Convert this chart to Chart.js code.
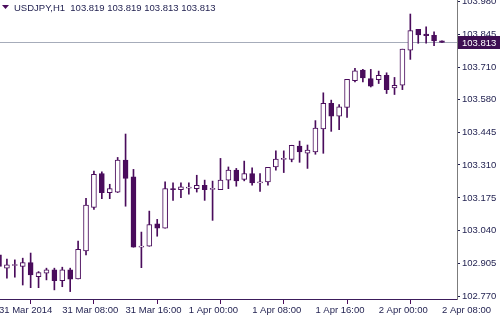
<!DOCTYPE html>
<html>
<head>
<meta charset="utf-8">
<script src="https://cdn.jsdelivr.net/npm/chart.js@4.4.0/dist/chart.umd.min.js"></script>
<style>
  html, body { margin: 0; padding: 0; background: #fff; }
</style>
</head>
<body>
<canvas id="chart" width="500" height="317"></canvas>
<script>
// USDJPY H1, one bar per hour from 31 Mar 2014 00:00
const opens = [
  102.942, 102.887, 102.898, 102.894, 102.910, 102.852, 102.866, 102.880, 102.836, 102.880,
  102.843, 102.958, 103.136, 103.275, 103.197, 103.199, 103.330, 103.261, 102.973, 102.977,
  103.069, 103.051, 103.211, 103.209, 103.215, 103.213, 103.227, 103.210, 103.209, 103.248,
  103.289, 103.251, 103.275, 103.237, 103.241, 103.302, 103.333, 103.333, 103.388, 103.358,
  103.364, 103.458, 103.563, 103.510, 103.546, 103.656, 103.699, 103.664, 103.660, 103.678,
  103.626, 103.637, 103.781, 103.866, 103.847, 103.842, 103.819
];
const highs = [
  102.950, 102.924, 102.921, 102.928, 102.949, 102.873, 102.887, 102.887, 102.891, 102.887,
  102.998, 103.173, 103.285, 103.282, 103.231, 103.341, 103.437, 103.292, 103.035, 103.121,
  103.087, 103.241, 103.237, 103.237, 103.237, 103.268, 103.248, 103.244, 103.337, 103.302,
  103.296, 103.326, 103.298, 103.275, 103.300, 103.368, 103.368, 103.391, 103.408, 103.392,
  103.492, 103.606, 103.576, 103.558, 103.661, 103.706, 103.702, 103.702, 103.695, 103.688,
  103.669, 103.785, 103.929, 103.866, 103.877, 103.856, 103.819
];
const lows = [
  102.888, 102.846, 102.850, 102.818, 102.807, 102.807, 102.839, 102.798, 102.811, 102.791,
  102.843, 102.941, 103.128, 103.172, 103.172, 103.197, 103.141, 102.973, 102.889, 102.977,
  103.018, 103.051, 103.165, 103.176, 103.190, 103.199, 103.165, 103.083, 103.209, 103.213,
  103.223, 103.245, 103.227, 103.202, 103.227, 103.289, 103.279, 103.323, 103.321, 103.296,
  103.354, 103.358, 103.448, 103.455, 103.505, 103.651, 103.651, 103.630, 103.644, 103.603,
  103.599, 103.619, 103.743, 103.809, 103.809, 103.799, 103.813
];
const closes = [
  102.894, 102.901, 102.900, 102.910, 102.859, 102.869, 102.880, 102.836, 102.880, 102.842,
  102.964, 103.146, 103.272, 103.197, 103.213, 103.330, 103.255, 102.973, 102.976, 103.066,
  103.051, 103.213, 103.209, 103.220, 103.217, 103.227, 103.209, 103.212, 103.248, 103.289,
  103.245, 103.275, 103.237, 103.239, 103.300, 103.334, 103.335, 103.391, 103.364, 103.371,
  103.461, 103.563, 103.510, 103.549, 103.661, 103.696, 103.667, 103.633, 103.678, 103.619,
  103.637, 103.785, 103.861, 103.843, 103.840, 103.819, 103.813
];

const xTickHours = [0, 8, 16, 24, 32, 40, 48, 56];
const xTickLabels = ['31 Mar 2014', '31 Mar 08:00', '31 Mar 16:00', '1 Apr 00:00',
                     '1 Apr 08:00', '1 Apr 16:00', '2 Apr 00:00', '2 Apr 08:00'];
const yTickLabels = ['102.770', '102.905', '103.040', '103.175', '103.310',
                     '103.445', '103.580', '103.710', '103.845', '103.980'];
const symbolName = 'USDJPY,H1';

const candleColor = '#4a0c5c';
const textColor = '#1e1e4e';
const fontSpec = { family: 'Liberation Sans', size: 9.5 };

const last = opens.length - 1;
const bodies = opens.map((o, i) => ({ x: i, y: [o, closes[i]] }));
const wicks = opens.map((o, i) => ({ x: i, y: [lows[i], highs[i]] }));
const bodyFill = opens.map((o, i) => closes[i] >= o ? '#ffffff' : candleColor);

// title, bid line and bid label
const overlay = {
    id: 'overlay',
    beforeDatasetsDraw(chart) {
        const ctx = chart.ctx;
        const area = chart.chartArea;
        const y = Math.round(chart.scales.y.getPixelForValue(closes[last])) + 0.5;
        ctx.save();
        ctx.strokeStyle = '#a6acba';
        ctx.lineWidth = 1;
        ctx.beginPath();
        ctx.moveTo(area.left, y);
        ctx.lineTo(area.right, y);
        ctx.stroke();
        ctx.restore();
    },
    afterDraw(chart) {
        const ctx = chart.ctx;
        const area = chart.chartArea;
        ctx.save();
        // title
        ctx.fillStyle = candleColor;
        ctx.beginPath();
        ctx.moveTo(2, 5);
        ctx.lineTo(9, 5);
        ctx.lineTo(5.5, 9);
        ctx.closePath();
        ctx.fill();
        ctx.fillStyle = textColor;
        ctx.font = '9.5px "Liberation Sans"';
        ctx.textBaseline = 'middle';
        ctx.fillText(symbolName + '  ' + opens[last].toFixed(3) + ' ' + highs[last].toFixed(3) + ' ' +
                     lows[last].toFixed(3) + ' ' + closes[last].toFixed(3), 14, 8);
        // bid label
        const y = Math.round(chart.scales.y.getPixelForValue(closes[last]));
        ctx.fillStyle = '#3e0e52';
        ctx.fillRect(area.right + 1, y - 6, chart.width - area.right - 1, 13);
        ctx.fillStyle = '#ffffff';
        ctx.fillText(closes[last].toFixed(3), area.right + 5, y + 1);
        ctx.restore();
    }
};

new Chart(document.getElementById('chart'), {
    type: 'bar',
    data: {
        datasets: [
            {
                data: wicks,
                backgroundColor: candleColor,
                borderWidth: 0,
                barThickness: 1,
                grouped: false,
                order: 2
            },
            {
                data: bodies,
                backgroundColor: bodyFill,
                borderColor: candleColor,
                borderWidth: 1,
                borderSkipped: false,
                barThickness: 5,
                minBarLength: 1,
                grouped: false,
                order: 1
            }
        ]
    },
    options: {
        responsive: false,
        animation: false,
        devicePixelRatio: 1,
        layout: { padding: 0 },
        plugins: {
            legend: { display: false },
            tooltip: { enabled: false }
        },
        scales: {
            x: {
                type: 'linear',
                min: 0.126,
                max: 57.9,
                offset: false,
                grid: { drawOnChartArea: false, tickLength: 5, color: candleColor },
                border: { color: '#3c1c5c' },
                ticks: {
                    autoSkip: false,
                    maxRotation: 0,
                    align: 'start',
                    padding: 1,
                    color: textColor,
                    font: fontSpec,
                    callback: (v, i) => xTickLabels[i]
                },
                afterBuildTicks: (scale) => {
                    scale.ticks = xTickHours.map((h) => ({ value: h }));
                },
                afterFit: (scale) => {
                    scale.height = 18;
                    scale.paddingLeft = 0;
                    scale.paddingRight = 0;
                }
            },
            y: {
                position: 'right',
                min: 102.7606,
                max: 103.9865,
                grid: { drawOnChartArea: false, tickLength: 3, color: textColor },
                border: { color: '#7c7c7c' },
                ticks: {
                    padding: 2,
                    color: textColor,
                    font: fontSpec,
                    callback: (v, i) => yTickLabels[i]
                },
                afterBuildTicks: (scale) => {
                    scale.ticks = yTickLabels.map((t) => ({ value: parseFloat(t) }));
                },
                afterFit: (scale) => {
                    scale.width = 43;
                    scale.paddingTop = 0;
                    scale.paddingBottom = 0;
                }
            }
        }
    },
    plugins: [overlay]
});
</script>
</body>
</html>
